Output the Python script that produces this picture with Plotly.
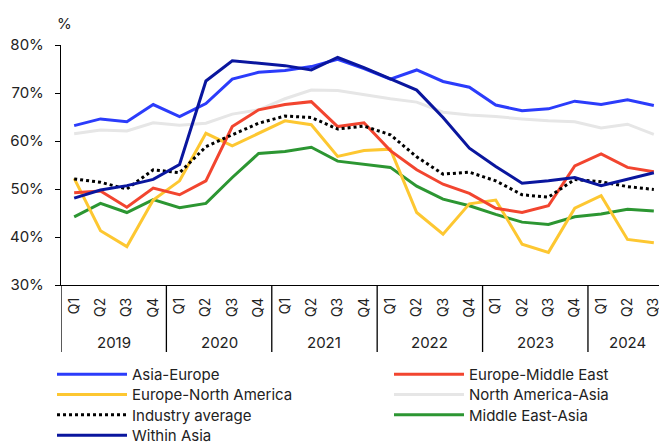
import plotly.graph_objects as go

years = ["2019", "2020", "2021", "2022", "2023", "2024"]
quarters_per_year = [4, 4, 4, 4, 4, 3]
quarter_labels = [f"Q{q+1}" for n in quarters_per_year for q in range(n)]

asia_europe = [63.2, 64.6, 64.0, 67.6, 65.1, 67.8, 72.9, 74.3, 74.7, 75.5, 77.0,
               75.1, 72.9, 74.8, 72.4, 71.2, 67.5, 66.3, 66.7, 68.3, 67.6, 68.6, 67.4]
europe_middle_east = [49.2, 49.6, 46.2, 50.2, 48.8, 51.7, 63.0, 66.5, 67.6, 68.2, 63.0,
                      63.8, 58.0, 54.0, 51.0, 49.1, 46.0, 45.1, 46.5, 54.8, 57.3, 54.5, 53.6]
europe_north_america = [52.2, 41.3, 38.0, 47.7, 51.7, 61.6, 59.0, 61.6, 64.2, 63.4, 56.8,
                        58.0, 58.3, 45.1, 40.6, 46.9, 47.7, 38.5, 36.8, 46.0, 48.6, 39.5, 38.8]
north_america_asia = [61.5, 62.3, 62.1, 63.8, 63.3, 63.7, 65.6, 66.5, 68.8, 70.6, 70.5,
                      69.6, 68.8, 68.1, 66.0, 65.4, 65.1, 64.6, 64.2, 64.0, 62.7, 63.5, 61.4]
industry_average = [52.1, 51.4, 50.0, 54.0, 53.4, 58.8, 61.3, 63.7, 65.2, 64.9, 62.5,
                    63.1, 61.3, 56.7, 53.1, 53.5, 51.7, 48.8, 48.3, 52.0, 51.5, 50.5, 49.9]
middle_east_asia = [44.2, 47.0, 45.1, 47.8, 46.1, 47.0, 52.4, 57.4, 57.8, 58.7, 55.8,
                    55.1, 54.5, 50.6, 47.9, 46.5, 44.7, 43.1, 42.6, 44.2, 44.8, 45.8, 45.4]
within_asia = [48.1, 49.8, 50.7, 52.0, 55.1, 72.5, 76.7, 76.2, 75.7, 74.8, 77.4,
               75.3, 72.9, 70.6, 64.9, 58.5, 54.7, 51.2, 51.7, 52.4, 50.7, 52.1, 53.4]

y_ticks = [30, 40, 50, 60, 70, 80]

# name, values, colour, dash  (legend reads left-to-right, two per row)
series = [
    ("Asia-Europe", asia_europe, "#2b3cfb", "solid"),
    ("Europe-Middle East", europe_middle_east, "#f2452f", "solid"),
    ("Europe-North America", europe_north_america, "#fdc731", "solid"),
    ("North America-Asia", north_america_asia, "#e6e6e6", "solid"),
    ("Industry average", industry_average, "#000000", "dot"),
    ("Middle East-Asia", middle_east_asia, "#2c9632", "solid"),
    ("Within Asia", within_asia, "#0a169e", "solid"),
]
draw_order = ["North America-Asia", "Middle East-Asia", "Europe-North America",
              "Europe-Middle East", "Industry average", "Asia-Europe", "Within Asia"]

FONT = "Inter"
TXT = "#222222"
# the page body has an 8px margin in the browser; the figure is sized to compensate
W, H = 659, 436
ML, MT = 53, 37
PLOT_H = 240
PLOT_W = W - ML
MB = H - MT - PLOT_H
x = list(range(len(quarter_labels)))

# legend grid (pixels relative to the plot area's bottom-left corner)
LEG_COL_X = [-9, 328]
LEG_ROW0 = 73
LEG_ROW_STEP = 20.3

fig = go.Figure()
lookup = {s[0]: s for s in series}
index = {s[0]: i for i, s in enumerate(series)}
legend_layouts = {}
for i, (name, *_r) in enumerate(series):
    key = "legend" if i == 0 else f"legend{i + 1}"
    col, row = i % 2, i // 2
    legend_layouts[key] = dict(
        x=LEG_COL_X[col] / PLOT_W, y=-(LEG_ROW0 + row * LEG_ROW_STEP) / PLOT_H,
        orientation="v", xanchor="left", yanchor="top", itemwidth=70,
        font=dict(family=FONT, size=15, color=TXT), bgcolor="rgba(0,0,0,0)")

for name in draw_order:
    _, vals, color, dash = lookup[name]
    i = index[name]
    fig.add_trace(go.Scatter(
        x=x, y=vals, name=name, mode="lines",
        line=dict(color=color, width=3, dash=dash),
        legend="legend" if i == 0 else f"legend{i + 1}",
    ))

shapes = []
annotations = []
start = 0
bounds = [start - 0.5]
for yr, n in zip(years, quarters_per_year):
    annotations.append(dict(x=start + (n - 1) / 2, y=-57 / PLOT_H, xref="x", yref="paper",
                            text=yr, showarrow=False, yanchor="middle",
                            font=dict(family=FONT, size=15, color=TXT)))
    start += n
    bounds.append(start - 0.5)
for b in bounds[:-1]:
    shapes.append(dict(type="line", xref="x", yref="paper", x0=b, x1=b, y0=0, y1=-67 / PLOT_H,
                       line=dict(color="#000000", width=1.3)))

annotations.append(dict(x=3 / PLOT_W, y=1 + 22 / PLOT_H, xref="paper", yref="paper", text="%",
                        showarrow=False, xanchor="center", yanchor="middle",
                        font=dict(family=FONT, size=15, color=TXT)))

fig.update_layout(
    width=W, height=H,
    margin=dict(l=ML, r=0, t=MT, b=MB, autoexpand=False),
    paper_bgcolor="white", plot_bgcolor="white",
    font=dict(family=FONT, size=15, color=TXT),
    showlegend=True,
    xaxis=dict(range=[-0.5, len(x) - 0.5], tickmode="array", tickvals=x, ticktext=quarter_labels,
               tickangle=-90, showgrid=False, zeroline=False, showline=True,
               linecolor="#000000", linewidth=1.3, ticks="", ticklabelstandoff=6,
               tickfont=dict(family=FONT, size=14, color=TXT)),
    yaxis=dict(range=[30, 80], tickmode="array", tickvals=y_ticks,
               ticktext=[f"{v}%" for v in y_ticks], showgrid=False, zeroline=False,
               showline=True, linecolor="#000000", linewidth=1.3, ticks="outside",
               ticklen=5, tickcolor="#000000", ticklabelstandoff=8,
               tickfont=dict(family=FONT, size=15, color=TXT)),
    shapes=shapes, annotations=annotations,
    **legend_layouts,
)

fig.write_html("out.html")
